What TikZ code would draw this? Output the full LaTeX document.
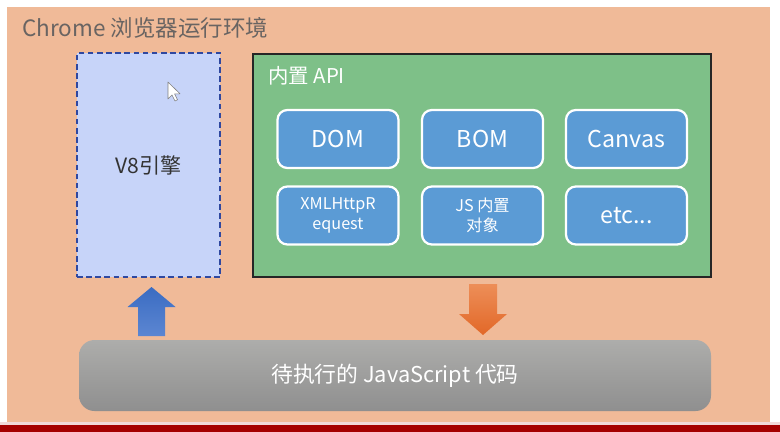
\documentclass[tikz,border=0pt]{standalone}
\usepackage{fontspec}
\setmainfont{Noto Sans CJK SC}
\usetikzlibrary{positioning}

\newcommand{\pu}{0.025cm}
\newcommand{\boxw}{121}
\newcommand{\boxh}{58}
\definecolor{mypeach}{RGB}{240,186,152}
\definecolor{mygreen}{RGB}{126,192,136}
\definecolor{myblue}{RGB}{91,155,213}
\definecolor{myv8fill}{RGB}{199,212,249}
\definecolor{myv8line}{RGB}{47,72,160}
\definecolor{mytitle}{RGB}{105,100,98}
\definecolor{mybarred}{RGB}{165,0,0}
\definecolor{mygraytop}{RGB}{173,173,171}
\definecolor{mygraybot}{RGB}{143,143,143}
\definecolor{myorangetop}{RGB}{237,142,88}
\definecolor{myorangebot}{RGB}{226,104,40}
\definecolor{mybluetop}{RGB}{58,108,194}
\definecolor{mybluebot}{RGB}{92,134,210}

\tikzset{
	apibox/.style={draw=white, line width=1.6pt, fill=myblue, rounded corners=7pt,
		minimum width=\boxw*\pu, minimum height=\boxh*\pu, inner sep=0pt,
		text=white, align=center, font=\fontsize{16.5}{18}\selectfont},
	apismall/.style={apibox, font=\fontsize{11.5}{14}\selectfont},
}

\begin{document}
\begin{tikzpicture}[x=\pu, y=-\pu]
	\useasboundingbox (0,0) rectangle (780,432);

	% fillers
	\fill [white] (0,0) rectangle (780,432);
	\fill [mypeach] (7,7) rectangle (770,422);
	\fill [mybarred!15] (0,422) rectangle (780,425);
	\fill [mybarred] (0,425) rectangle (780,432);

	% caption
	\node (title) [anchor=base west, inner sep=0pt, text=mytitle,
		font=\fontsize{16}{18}\selectfont] at (22,37) {Chrome 浏览器运行环境};

	% engine
	\node (v8) [draw=myv8line, fill=myv8fill, line width=1.5pt, dash pattern=on 4pt off 2.5pt,
		minimum width=143*\pu, minimum height=224*\pu, text=black!80,
		font=\fontsize{15}{16}\selectfont] at (148.5,165) {V8引擎};

	% cursor
	\draw [fill=white, draw=gray, line width=0.4pt, line join=round]
		(168,82) -- ++(0,17) -- ++(4,-4) -- ++(3,6) -- ++(2.5,-1.2) -- ++(-3,-6) -- ++(5.5,0) -- cycle;

	% api area
	\node (api) [draw=black!85, fill=mygreen, line width=1.2pt,
		minimum width=458*\pu, minimum height=223*\pu] at (482,165.5) {};
	\node (apititle) [anchor=base west, inner sep=0pt, text=white,
		font=\fontsize{14.5}{16}\selectfont] at (268,84) {内置 API};

	\node (dom) [apibox] at (338,139) {DOM};
	\node (bom) [apibox] at (482.5,139) {BOM};
	\node (canvas) [apibox] at (626.5,139) {Canvas};
	\node (xhr) [apismall] at (338,215.5) {XMLHttpR\\equest};
	\node (jsobj) [apismall] at (482.5,215.5) {JS 内置\\对象};
	\node (etc) [apibox] at (626.5,215.5) {etc...};

	% code
	\node (code) [top color=mygraytop, bottom color=mygraybot, rounded corners=11pt,
		minimum width=632*\pu, minimum height=71*\pu, text=white,
		font=\fontsize{15.5}{18}\selectfont] at (395,375.5) {待执行的 JavaScript 代码};

	% arrows
	\coordinate (upfoot) at (151.5,336);
	\coordinate (downtop) at (483,284);
	\path [top color=mybluetop, bottom color=mybluebot]
		(upfoot) -- ++(-13.5,0) -- ++(0,-29) -- ++(-10.5,0) -- ++(24,-20)
		-- ++(24,20) -- ++(-10.5,0) -- ++(0,29) -- cycle;
	\path [top color=myorangetop, bottom color=myorangebot]
		(downtop) -- ++(-14,0) -- ++(0,30) -- ++(-10,0) -- ++(24,21)
		-- ++(24,-21) -- ++(-10,0) -- ++(0,-30) -- cycle;
\end{tikzpicture}
\end{document}
